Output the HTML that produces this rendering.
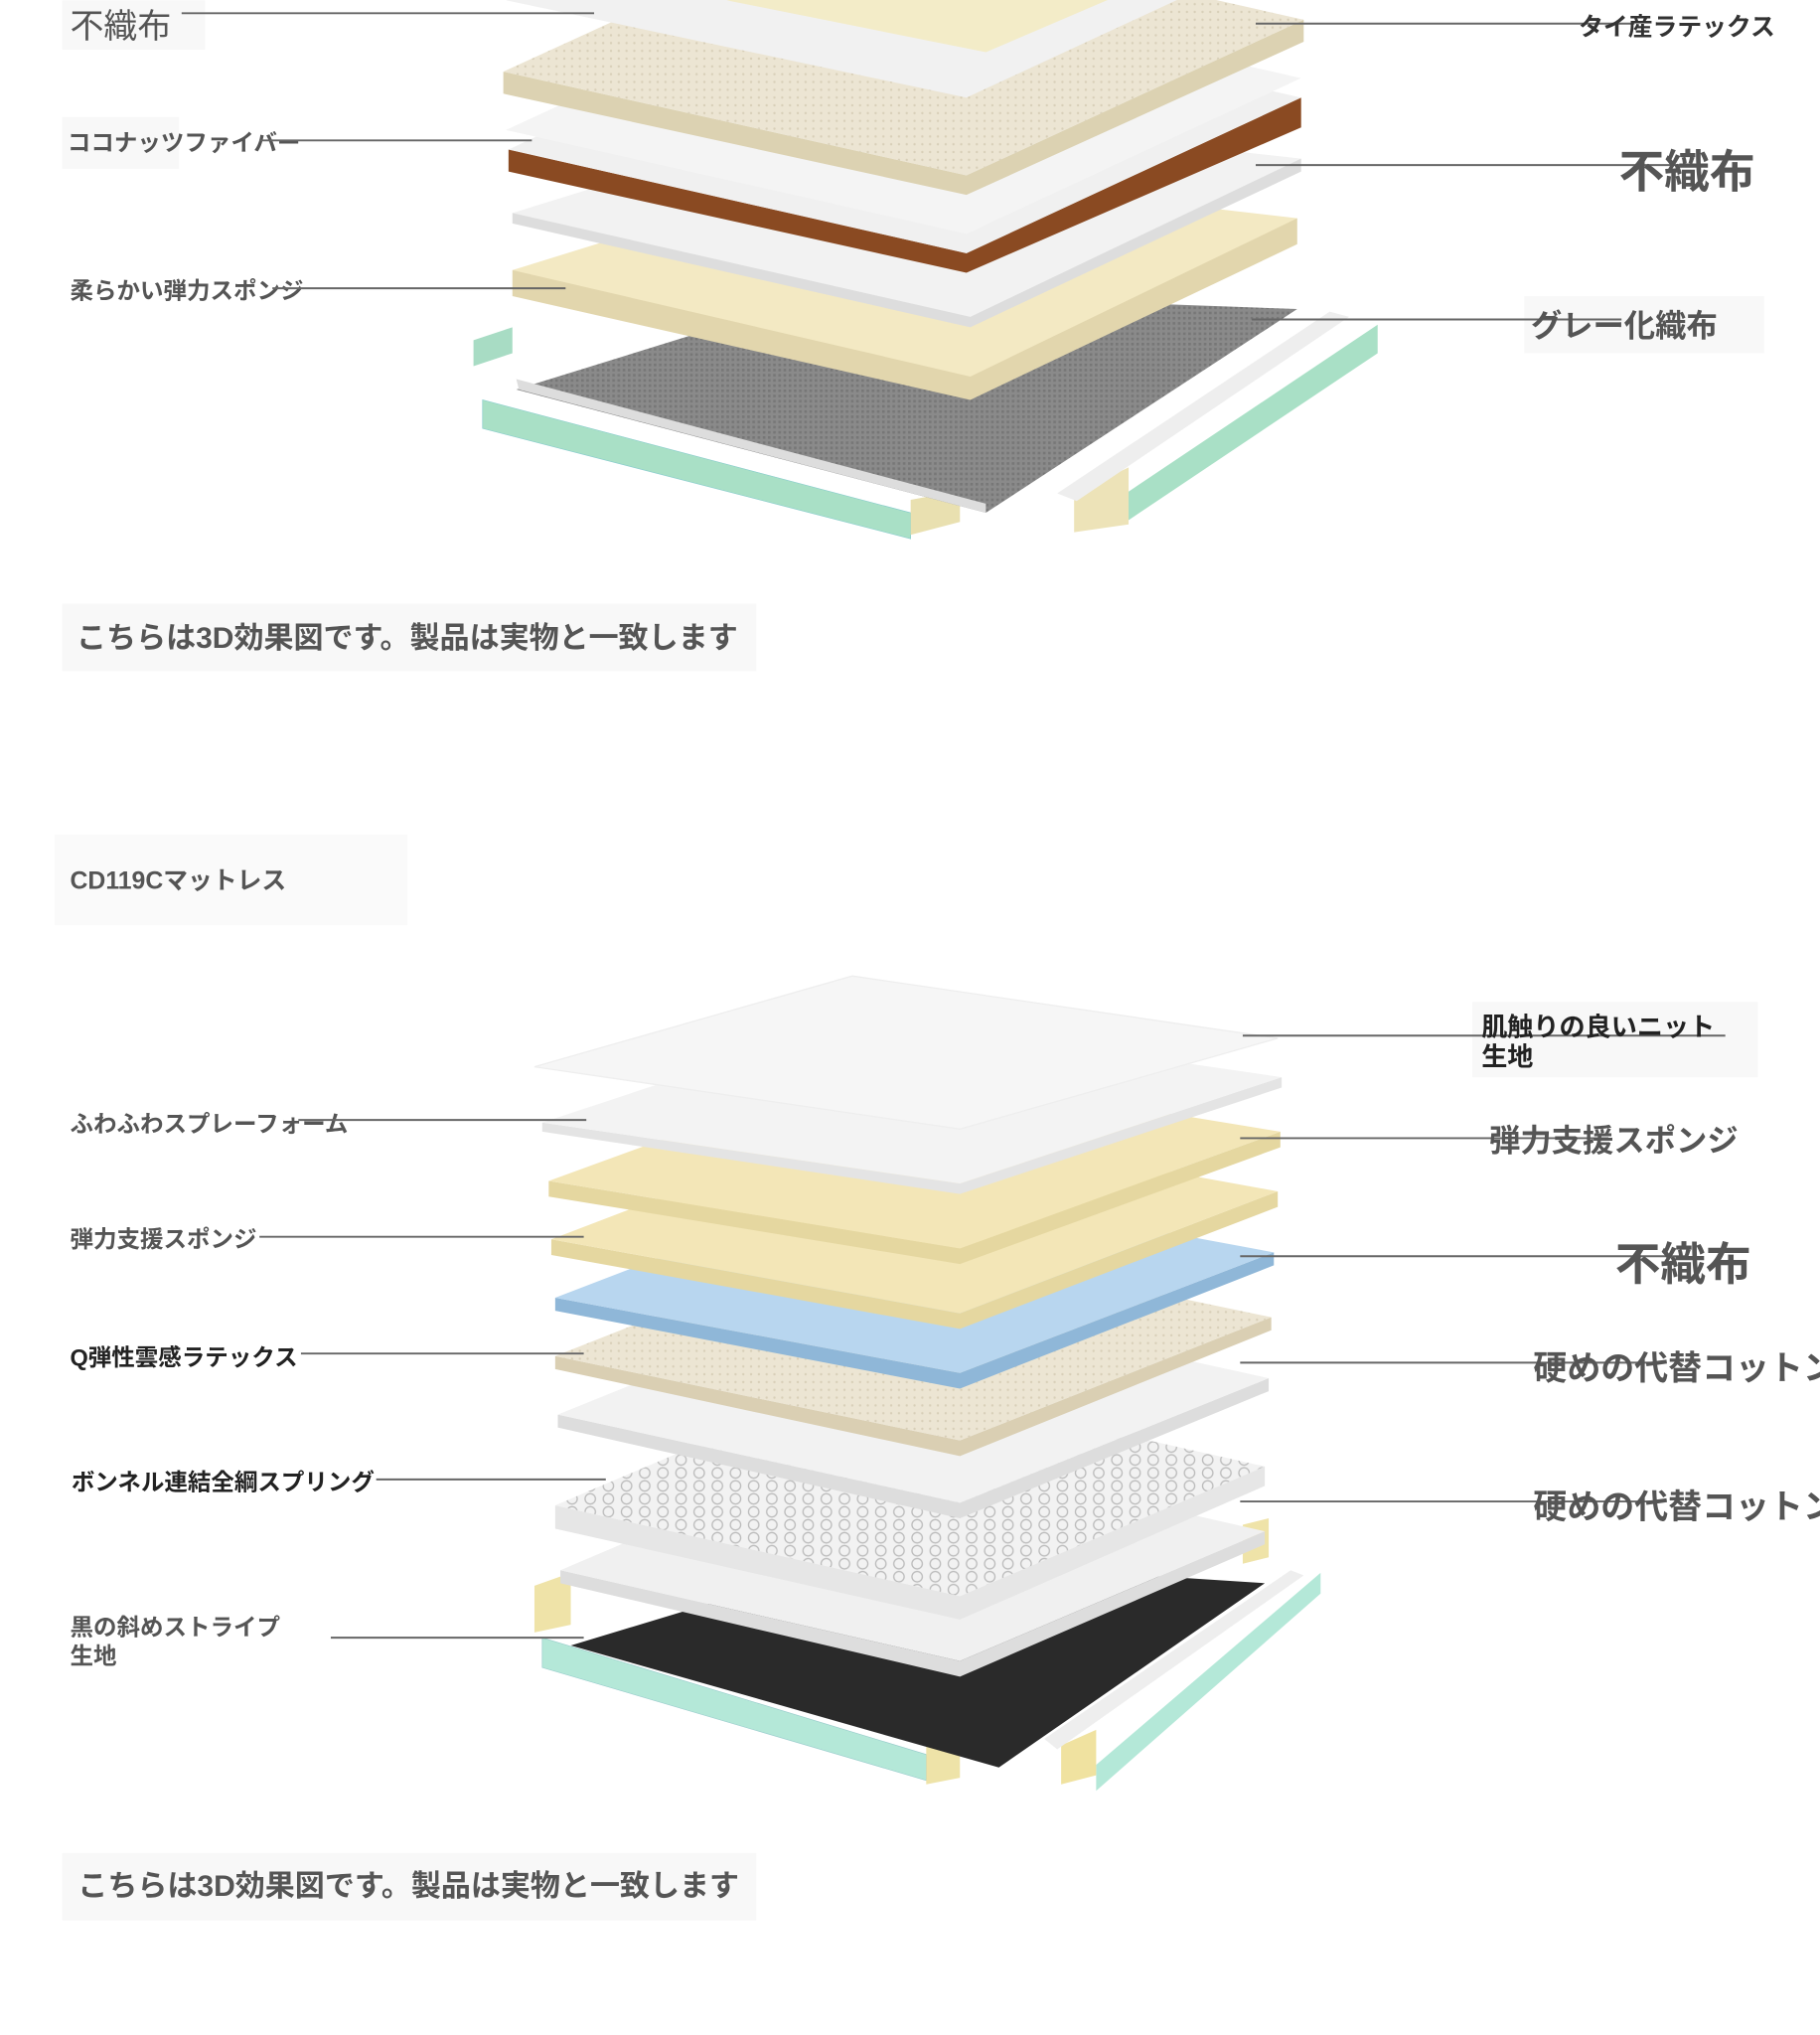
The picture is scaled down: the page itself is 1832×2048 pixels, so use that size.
<!DOCTYPE html>
<html><head><meta charset="utf-8"><style>
html,body{margin:0;padding:0;background:#fff;width:1832px;height:2048px;overflow:hidden}
svg{display:block}
text{font-family:"Liberation Sans","Noto Sans CJK JP",sans-serif;font-weight:bold;fill:#555}
</style></head><body>
<svg width="1832" height="2048" viewBox="0 0 1403 1568" xmlns="http://www.w3.org/2000/svg">
<defs>
<pattern id="gr" width="4" height="4" patternUnits="userSpaceOnUse"><rect width="4" height="4" fill="#8a8a8a"/><rect width="2" height="2" fill="#777"/></pattern>
<pattern id="sp" width="14" height="10" patternUnits="userSpaceOnUse"><rect width="14" height="10" fill="#f2f2f2"/><circle cx="7" cy="5" r="4" fill="none" stroke="#bbb" stroke-width="1"/></pattern>
<pattern id="lx" width="6" height="6" patternUnits="userSpaceOnUse"><rect width="6" height="6" fill="#ece5d3"/><circle cx="3" cy="3" r="0.9" fill="#d8cfb8"/></pattern>
</defs>

<polygon points="365,262 395,252 395,272 365,282" fill="#a8dcc4"/>
<polygon points="372,308 702,395 702,415 372,330" fill="#a9e0c6" stroke="#8cc" stroke-width="0.5"/>
<polygon points="702,385 740,378 740,402 702,412" fill="#e9e0b0"/>
<polygon points="868,380 1062,250 1062,272 868,402" fill="#a9e0c6"/>
<polygon points="828,380 870,360 870,404 828,410" fill="#ede3b8"/>
<polygon points="815,380 1025,240 1040,244 830,386" fill="#eee"/>
<polygon points="398,300 760,395 1000,238 640,225" fill="url(#gr)"/>
<polygon points="398,292 400,300 760,395 760,388" fill="#ddd"/>
<polygon points="395,228 748,308 1000,188 1000,168 640,148 395,208" fill="#e2d6ad"/>
<polygon points="395,208 748,290 1000,168 653,128" fill="#f3e9c3"/>
<polygon points="395,172 748,252 1003,132 1003,122 395,164" fill="#ddd"/>
<polygon points="395,164 748,244 1003,122 653,84" fill="#f2f2f2"/>
<polygon points="392,115 745,195 1003,75 1003,98 745,210 392,132" fill="#8a4a22"/>
<polygon points="392,115 745,195 1003,75 650,-5" fill="#f0f0f0"/>
<polygon points="390,100 745,180 1003,60 650,-20" fill="#f4f4f4"/>
<polygon points="388,55 745,135 1005,15 1005,32 745,150 388,72" fill="#dcd2b2"/>
<polygon points="388,55 745,135 1005,15 650,-65" fill="url(#lx)"/>
<polygon points="390,0 745,75 950,-20 700,-60" fill="#f1f1f1"/>
<polygon points="560,0 760,40 900,-20" fill="#f3ecc8"/>

<rect x="48" y="0" width="110" height="38" fill="#f8f8f8"/>
<text x="54" y="29" font-size="26" style="font-weight:normal">不織布</text>
<line x1="140" y1="10" x2="458" y2="10" stroke="#666" stroke-width="1.5"/>
<rect x="48" y="90" width="90" height="40" fill="#f8f8f8"/>
<text x="52" y="116" font-size="18">ココナッツファイバー</text>
<line x1="200" y1="108" x2="410" y2="108" stroke="#666" stroke-width="1.5"/>
<text x="54" y="230" font-size="18">柔らかい弾力スポンジ</text>
<line x1="210" y1="222" x2="436" y2="222" stroke="#666" stroke-width="1.5"/>
<line x1="968" y1="18" x2="1260" y2="18" stroke="#666" stroke-width="1.5"/>
<text x="1217" y="27" font-size="19" style="fill:#333">タイ産ラテックス</text>
<line x1="968" y1="127" x2="1300" y2="127" stroke="#666" stroke-width="1.5"/>
<text x="1248" y="144" font-size="35">不織布</text>
<rect x="1175" y="228" width="185" height="44" fill="#f8f8f8"/>
<line x1="965" y1="246" x2="1250" y2="246" stroke="#666" stroke-width="1.5"/>
<text x="1180" y="259" font-size="24">グレー化織布</text>

<rect x="48" y="465" width="535" height="52" fill="#f8f8f8"/>
<text x="59" y="499" font-size="23">こちらは3D効果図です。製品は実物と一致します</text>

<rect x="42" y="643" width="272" height="70" fill="#fafafa"/>
<text x="54" y="685" font-size="19">CD119Cマットレス</text>

<polygon points="412,1222 440,1212 440,1252 412,1258" fill="#efe3a8"/>
<polygon points="418,1262 714,1352 714,1372 418,1285" fill="#b4e8d8" stroke="#9cc" stroke-width="0.5"/>
<polygon points="714,1345 740,1340 740,1370 714,1375" fill="#eee3a8"/>
<polygon points="845,1360 1018,1212 1018,1228 845,1380" fill="#b4e8d8"/>
<polygon points="818,1345 845,1333 845,1368 818,1375" fill="#f0e2a0"/>
<polygon points="805,1340 995,1210 1005,1214 815,1348" fill="#eee"/>
<polygon points="958,1175 978,1170 978,1200 958,1205" fill="#efe3a8"/>
<polygon points="440,1268 770,1362 975,1220 665,1200" fill="#2a2a2a"/>
<polygon points="432,1210 740,1280 975,1180 975,1190 740,1292 432,1220" fill="#ddd"/>
<polygon points="432,1210 740,1280 975,1180 667,1110" fill="#f0f0f0"/>
<polygon points="428,1160 740,1230 975,1130 975,1145 740,1248 428,1178" fill="#e6e6e6"/>
<polygon points="428,1160 740,1230 975,1130 663,1060" fill="url(#sp)"/>
<polygon points="430,1090 740,1158 978,1062 978,1072 740,1170 430,1100" fill="#ddd"/>
<polygon points="430,1090 740,1158 978,1062 668,994" fill="#f2f2f2"/>
<polygon points="428,1045 740,1110 980,1015 980,1025 740,1122 428,1055" fill="#dacfb3"/>
<polygon points="428,1045 740,1110 980,1015 668,950" fill="url(#lx)"/>
<polygon points="428,1000 740,1058 982,965 982,975 740,1070 428,1010" fill="#8fb7d8"/>
<polygon points="428,1000 740,1058 982,965 670,907" fill="#b8d6ef"/>
<polygon points="425,955 740,1012 985,918 985,930 740,1024 425,967" fill="#e5d7a0"/>
<polygon points="425,955 740,1012 985,918 670,861" fill="#f3e6b7"/>
<polygon points="423,910 740,962 987,872 987,884 740,974 423,922" fill="#e5d7a0"/>
<polygon points="423,910 740,962 987,872 670,820" fill="#f3e6b7"/>
<polygon points="418,865 740,912 988,830 988,838 740,920 418,872" fill="#e4e4e4"/>
<polygon points="418,865 740,912 988,830 666,783" fill="#f3f3f3"/>
<polygon points="412,822 740,870 985,800 657,752" fill="#f6f6f6" stroke="#eee"/>

<text x="54" y="872" font-size="18">ふわふわスプレーフォーム</text>
<line x1="230" y1="863" x2="452" y2="863" stroke="#666" stroke-width="1.5"/>
<text x="54" y="961" font-size="18">弾力支援スポンジ</text>
<line x1="200" y1="953" x2="450" y2="953" stroke="#666" stroke-width="1.5"/>
<text x="54" y="1052" font-size="18" style="fill:#222">Q弾性雲感ラテックス</text>
<line x1="232" y1="1043" x2="450" y2="1043" stroke="#666" stroke-width="1.5"/>
<text x="55" y="1148" font-size="18" style="fill:#222">ボンネル連結全綱スプリング</text>
<line x1="290" y1="1140" x2="467" y2="1140" stroke="#666" stroke-width="1.5"/>
<text x="54" y="1260" font-size="18">黒の斜めストライプ</text>
<text x="54" y="1282" font-size="18">生地</text>
<line x1="255" y1="1262" x2="450" y2="1262" stroke="#666" stroke-width="1.5"/>

<rect x="1135" y="772" width="220" height="58" fill="#f8f8f8"/>
<line x1="958" y1="798" x2="1330" y2="798" stroke="#666" stroke-width="1.5"/>
<text x="1142" y="798" font-size="20" style="fill:#222">肌触りの良いニット</text>
<text x="1142" y="821" font-size="20" style="fill:#222">生地</text>
<line x1="956" y1="877" x2="1240" y2="877" stroke="#666" stroke-width="1.5"/>
<text x="1148" y="887" font-size="24">弾力支援スポンジ</text>
<line x1="956" y1="968" x2="1300" y2="968" stroke="#666" stroke-width="1.5"/>
<text x="1245" y="986" font-size="35">不織布</text>
<line x1="956" y1="1050" x2="1280" y2="1050" stroke="#666" stroke-width="1.5"/>
<text x="1182" y="1063" font-size="26">硬めの代替コットン</text>
<line x1="956" y1="1157" x2="1280" y2="1157" stroke="#666" stroke-width="1.5"/>
<text x="1182" y="1170" font-size="26">硬めの代替コットン</text>

<rect x="48" y="1428" width="535" height="52" fill="#f8f8f8"/>
<text x="60" y="1461" font-size="23">こちらは3D効果図です。製品は実物と一致します</text>
</svg>
</body></html>
